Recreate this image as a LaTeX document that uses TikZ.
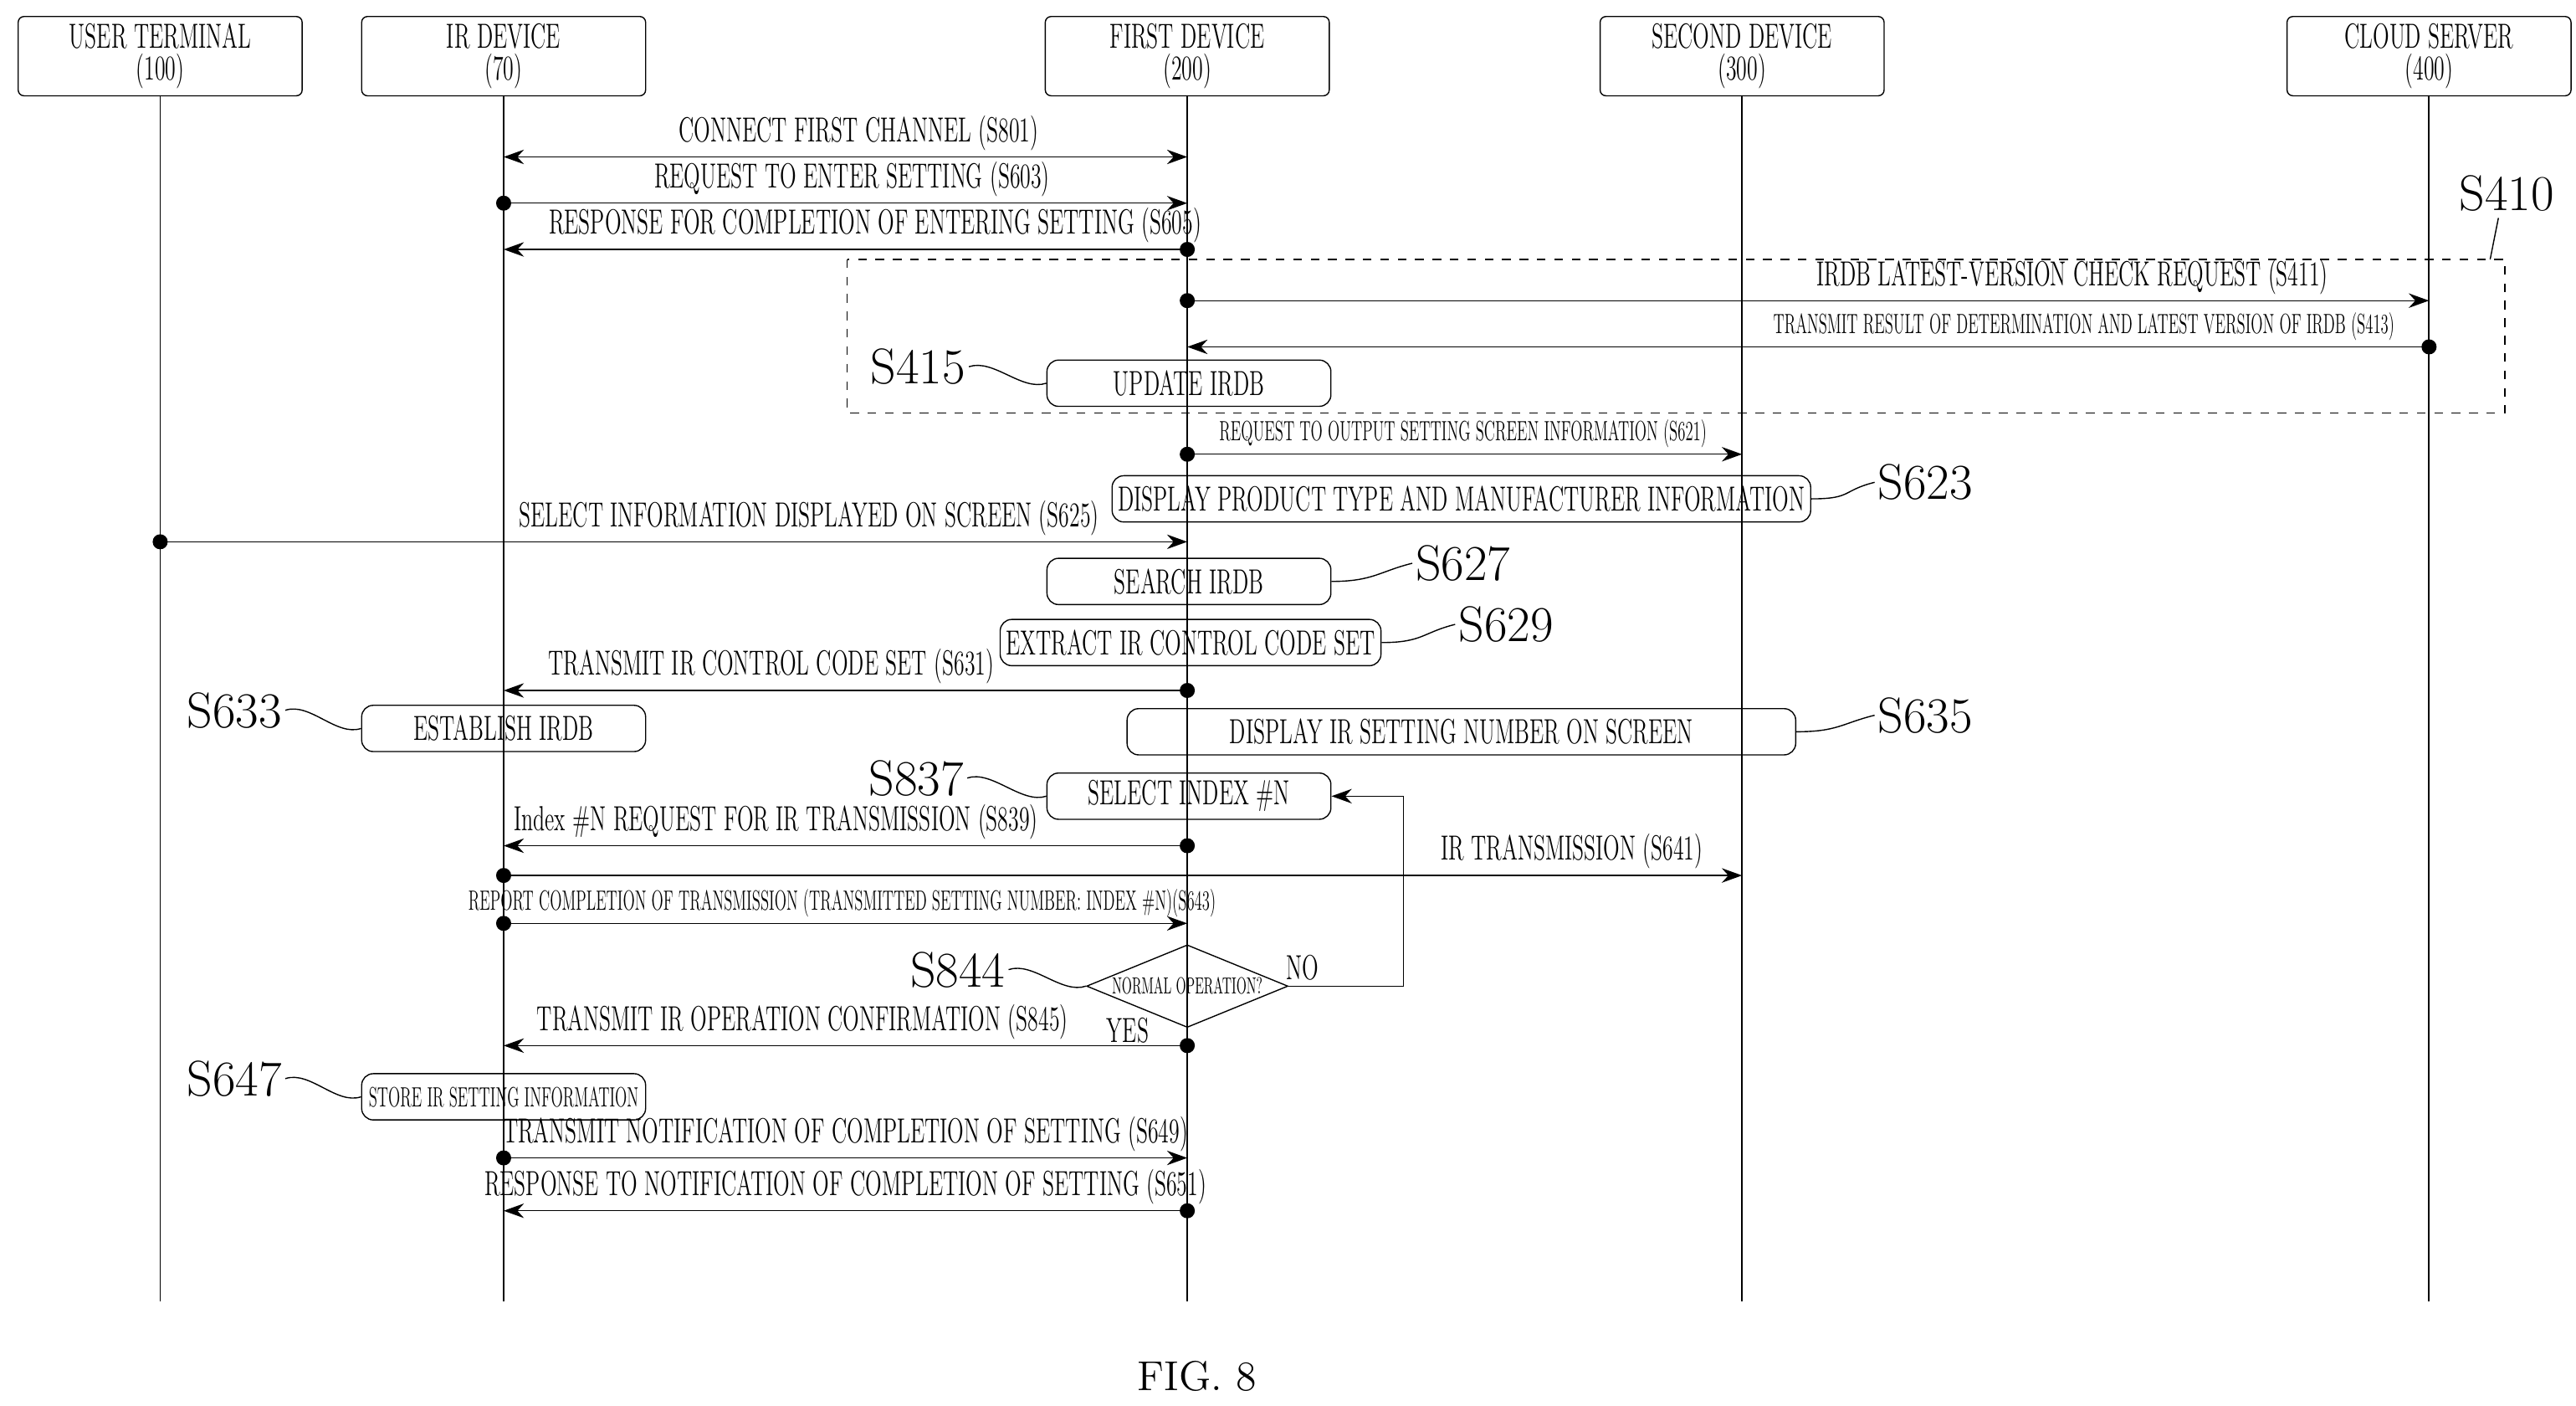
\documentclass[tikz,border=0pt]{standalone}
\usepackage{tikz}
\usetikzlibrary{positioning, shapes.geometric, arrows.meta}

% narrow caption text used by all labels
\newcommand{\nar}[1]{\scalebox{0.62}[1]{#1}}
\newcommand{\tny}[1]{\scalebox{0.45}[0.8]{#1}}

% lifeline positions
\def\xut{97}
\def\xir{305}
\def\xfd{719}
\def\xsd{1055}
\def\xcs{1471}

% message: name, y, from x, to x, label x, label
\newcommand{\msg}[6]{%
  \coordinate (#1a) at (#3,#2);
  \coordinate (#1b) at (#4,#2);
  \fill (#1a) circle (2.6pt);
  \draw[msgarrow] (#1a) -- (#1b);
  \node[msglabel] (#1l) at (#5,#2) {#6};
}

\begin{document}
\begin{tikzpicture}[
    x=0.02cm, y=-0.02cm,
    head/.style={draw, rounded corners=2pt, minimum width=3.44cm, minimum height=0.96cm, align=center, inner sep=0pt, font=\large},
    action/.style={draw, rounded corners=4pt, minimum height=0.56cm, inner sep=2pt, font=\large},
    steplabel/.style={font=\LARGE, inner sep=1pt},
    msgarrow/.style={-{Stealth[length=7pt, width=5pt]}},
    msglabel/.style={anchor=south, font=\large, inner sep=2pt},
    lifeline/.style={line width=0.5pt}
]
\useasboundingbox (0,0) rectangle (1560,851);

% Participants
\node[head] (ut) at (\xut,34) {\nar{USER TERMINAL}\\[-3pt]\nar{(100)}};
\node[head] (ir) at (\xir,34) {\nar{IR DEVICE}\\[-3pt]\nar{(70)}};
\node[head] (fd) at (\xfd,34) {\nar{FIRST DEVICE}\\[-3pt]\nar{(200)}};
\node[head] (sd) at (\xsd,34) {\nar{SECOND DEVICE}\\[-3pt]\nar{(300)}};
\node[head] (cs) at (\xcs,34) {\nar{CLOUD SERVER}\\[-3pt]\nar{(400)}};
\foreach \p/\x in {ut/\xut, ir/\xir, fd/\xfd, sd/\xsd, cs/\xcs} {
  \coordinate (\p end) at (\x,788);
  \draw[lifeline] (\p.south) -- (\p end);
}

% Channel and setting
\coordinate (c801a) at (\xir,95);
\coordinate (c801b) at (\xfd,95);
\draw[{Stealth[length=7pt, width=5pt]}-{Stealth[length=7pt, width=5pt]}] (c801a) -- (c801b);
\node[msglabel] (c801l) at (520,95) {\nar{CONNECT FIRST CHANNEL (S801)}};
\msg{m603}{123}{\xir}{\xfd}{516}{\nar{REQUEST TO ENTER SETTING (S603)}}
\msg{m605}{151}{\xfd}{\xir}{530}{\nar{RESPONSE FOR COMPLETION OF ENTERING SETTING (S605)}}

% IRDB version check
\draw[dashed] (513,157) rectangle (1517,250);
\coordinate (box410) at (1508,157);
\node[steplabel] (s410) at (1518,117) {S410};
\draw (s410.south) ++(-5,2) -- (box410);
\msg{m411}{182}{\xfd}{\xcs}{1255}{\nar{IRDB LATEST-VERSION CHECK REQUEST (S411)}}
\msg{m413}{210}{\xcs}{\xfd}{1262}{\tny{TRANSMIT RESULT OF DETERMINATION AND LATEST VERSION OF IRDB (S413)}}
\node[action, minimum width=3.44cm] (upd) at (720,232) {\nar{UPDATE IRDB}};
\node[steplabel] (s415) at (556,222) {S415};
\draw (s415.east) .. controls +(15,-5) and +(-15,5) .. (upd.west);

% Screen information
\msg{m621}{275}{\xfd}{\xsd}{886}{\tny{REQUEST TO OUTPUT SETTING SCREEN INFORMATION (S621)}}
\node[action, minimum width=8.1cm] (disp) at (885,302) {\nar{DISPLAY PRODUCT TYPE AND MANUFACTURER INFORMATION}};
\node[steplabel] (s623) at (1166,292) {S623};
\draw (disp.east) .. controls +(25,0) and +(-20,5) .. (s623.west);
\msg{m625}{328}{\xut}{\xfd}{490}{\nar{SELECT INFORMATION DISPLAYED ON SCREEN (S625)}}
\node[action, minimum width=3.44cm] (srch) at (720,352) {\nar{SEARCH IRDB}};
\node[steplabel] (s627) at (886,341) {S627};
\draw (srch.east) .. controls +(25,0) and +(-20,5) .. (s627.west);
\node[action, minimum width=4.38cm] (extr) at (721,389) {\nar{EXTRACT IR CONTROL CODE SET}};
\node[steplabel] (s629) at (912,378) {S629};
\draw (extr.east) .. controls +(25,0) and +(-20,5) .. (s629.west);
\msg{m631}{418}{\xfd}{\xir}{467}{\nar{TRANSMIT IR CONTROL CODE SET (S631)}}
\node[action, minimum width=3.44cm] (est) at (305,441) {\nar{ESTABLISH IRDB}};
\node[steplabel] (s633) at (142,430) {S633};
\draw (s633.east) .. controls +(15,-5) and +(-15,5) .. (est.west);
\node[action, minimum width=8.1cm] (num) at (885,443) {\nar{DISPLAY IR SETTING NUMBER ON SCREEN}};
\node[steplabel] (s635) at (1166,433) {S635};
\draw (num.east) .. controls +(25,0) and +(-20,5) .. (s635.west);

% IR transmission loop
\node[action, minimum width=3.44cm] (sel) at (720,482) {\nar{SELECT INDEX \#N}};
\node[steplabel] (s837) at (555,471) {S837};
\draw (s837.east) .. controls +(15,-5) and +(-15,5) .. (sel.west);
\msg{m839}{512}{\xfd}{\xir}{470}{\nar{Index \#N REQUEST FOR IR TRANSMISSION (S839)}}
\msg{m641}{530}{\xir}{\xsd}{952}{\nar{IR TRANSMISSION (S641)}}
\msg{m643}{559}{\xir}{\xfd}{510}{\tny{REPORT COMPLETION OF TRANSMISSION (TRANSMITTED SETTING NUMBER: INDEX \#N)(S643)}}
\node[draw, diamond, aspect=2.4, minimum width=2.44cm, minimum height=1cm, inner sep=0pt] (ok) at (719,597) {\tny{NORMAL OPERATION?}};
\node[steplabel] (s844) at (580,587) {S844};
\draw (s844.east) .. controls +(15,-5) and +(-15,5) .. (ok.west);
\coordinate (loopc) at (850,597);
\draw[msgarrow] (ok.east) -- (loopc) |- (sel.east);
\node[font=\large] (no) at (789,586) {\nar{NO}};
\msg{m845}{633}{\xfd}{\xir}{486}{\nar{TRANSMIT IR OPERATION CONFIRMATION (S845)}}
\node[font=\large] (yes) at (683,624) {\nar{YES}};

% Storing and completion
\node[action, minimum width=3.44cm] (store) at (305,664) {\tny{STORE IR SETTING INFORMATION}};
\node[steplabel] (s647) at (142,653) {S647};
\draw (s647.east) .. controls +(15,-5) and +(-15,5) .. (store.west);
\msg{m649}{701}{\xir}{\xfd}{512}{\nar{TRANSMIT NOTIFICATION OF COMPLETION OF SETTING (S649)}}
\msg{m651}{733}{\xfd}{\xir}{512}{\nar{RESPONSE TO NOTIFICATION OF COMPLETION OF SETTING (S651)}}

\node[font=\Large] (fig) at (725,833) {FIG. 8};
\end{tikzpicture}
\end{document}
